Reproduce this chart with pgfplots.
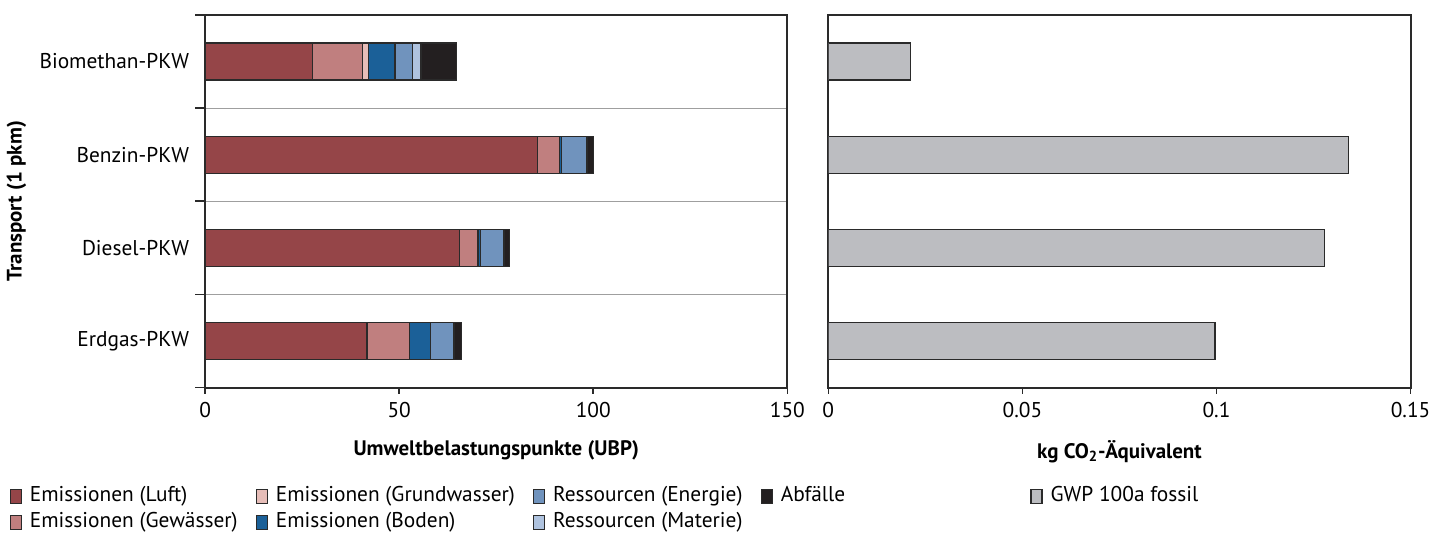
\documentclass[border=0pt]{standalone}
\usepackage{fontspec}
\setmainfont{PT Sans}
\usepackage{pgfplots}
\usepackage{pgfplotstable}
\pgfplotsset{compat=1.18}
\definecolor{cLuft}{HTML}{954548}
\definecolor{cGew}{HTML}{C07F7F}
\definecolor{cGrund}{HTML}{E6BDB8}
\definecolor{cBoden}{HTML}{1B6098}
\definecolor{cEnergie}{HTML}{7093BD}
\definecolor{cMaterie}{HTML}{AFC3DF}
\definecolor{cAbf}{HTML}{231F20}
\definecolor{cGWP}{HTML}{BCBDC1}
\definecolor{cLine}{HTML}{2A2A2A}

\pgfplotstableread{
y luft gew grund boden energie materie abf
0 27.6 13.0 1.4 6.9 4.5 2.2 9.2
1 85.7 5.6 0.1 0.5 6.4 0.1 1.6
2 65.6 4.6 0.1 0.6 6.1 0.1 1.4
3 41.7 10.9 0.1 5.3 6.0 0.1 1.9
}\ubp

\pgfplotstableread{
y gwp
0 0.0211
1 0.1339
2 0.1279
3 0.0996
}\gwp

\begin{document}
\begin{tikzpicture}[font=\fontsize{10.7}{12.7}\selectfont]
\pgfplotsset{
  common/.style={
    scale only axis, width=291.5pt, height=186.5pt,
    y dir=reverse, ymin=-0.5, ymax=3.5,
    minor ytick={-0.5,0.5,1.5,2.5,3.5},
    yminorgrids=true,
    minor y grid style={draw=gray!75, line width=0.5pt},
    tick align=outside,
    xtick pos=bottom, ytick pos=left,
    major tick length=3pt, minor tick length=5pt,
    major y tick style={draw=none},
    tick style={draw=cLine, line width=0.8pt},
    axis line style={draw=cLine, line width=1pt},
    xbar stacked, bar width=18.5pt,
    every axis plot/.append style={draw=cLine, line width=0.6pt},
    /pgf/number format/assume math mode=true,
    scaled x ticks=false,
    xticklabel style={yshift=-1pt},
    xlabel style={at={(axis description cs:0.5,0)}, anchor=north, yshift=-23pt, font=\fontsize{10.5}{12.5}\selectfont\bfseries},
    legend image code/.code={\draw[#1, line width=0.6pt] (0pt,-3.5pt) rectangle (5.5pt,3.5pt);},
    legend style={draw=none, fill=none, legend columns=4,
      nodes={inner xsep=1pt, inner ysep=1pt, text height=8pt, text depth=2.5pt},
      row sep=0.5pt,
      /tikz/every odd column/.append style={column sep=3pt},
      /tikz/every even column/.append style={column sep=8pt},
      cells={anchor=west}},
  }
}
\begin{axis}[common,
  xmin=0, xmax=150,
  xtick={0,50,100,150}, xticklabels={0,50,100,150},
  ytick={0,1,2,3},
  yticklabels={Biomethan-PKW,Benzin-PKW,Diesel-PKW,Erdgas-PKW},
  yticklabel style={xshift=-1.5pt},
  xlabel={Umweltbelastungspunkte (UBP)},
  ylabel={Transport (1 pkm)},
  ylabel style={at={(axis description cs:-0.324,0.5)}, anchor=center, font=\fontsize{10.5}{12.5}\selectfont\bfseries},
  legend style={at={(axis description cs:0,0)}, anchor=north west, xshift=-101pt, yshift=-46pt},
]
\addlegendimage{fill=cLuft, draw=cLine}
\addlegendentry{Emissionen (Luft)}
\addlegendimage{fill=cGrund, draw=cLine}
\addlegendentry{Emissionen (Grundwasser)}
\addlegendimage{fill=cEnergie, draw=cLine}
\addlegendentry{Ressourcen (Energie)}
\addlegendimage{fill=cAbf, draw=cLine}
\addlegendentry{Abfälle}
\addlegendimage{fill=cGew, draw=cLine}
\addlegendentry{Emissionen (Gewässer)}
\addlegendimage{fill=cBoden, draw=cLine}
\addlegendentry{Emissionen (Boden)}
\addlegendimage{fill=cMaterie, draw=cLine}
\addlegendentry{Ressourcen (Materie)}
\addplot[fill=cLuft] table[x=luft, y=y] {\ubp};
\addplot[fill=cGew] table[x=gew, y=y] {\ubp};
\addplot[fill=cGrund] table[x=grund, y=y] {\ubp};
\addplot[fill=cBoden] table[x=boden, y=y] {\ubp};
\addplot[fill=cEnergie] table[x=energie, y=y] {\ubp};
\addplot[fill=cMaterie] table[x=materie, y=y] {\ubp};
\addplot[fill=cAbf] table[x=abf, y=y] {\ubp};
\end{axis}

\begin{axis}[common, at={(312pt,0pt)}, anchor=south west,
  xmin=0, xmax=0.15,
  xtick={0,0.05,0.1,0.15}, xticklabels={0,0.05,0.1,0.15},
  ytick=\empty,
  xlabel={kg CO\textsubscript{2}-Äquivalent},
  legend style={at={(axis description cs:0,0)}, anchor=north west, xshift=98pt, yshift=-46pt},
]
\addlegendimage{fill=cGWP, draw=cLine}
\addlegendentry{GWP 100a fossil}
\addplot[fill=cGWP] table[x=gwp, y=y] {\gwp};
\end{axis}
\path (-102pt,-72pt) rectangle (616.5pt,194pt);
\end{tikzpicture}
\end{document}
